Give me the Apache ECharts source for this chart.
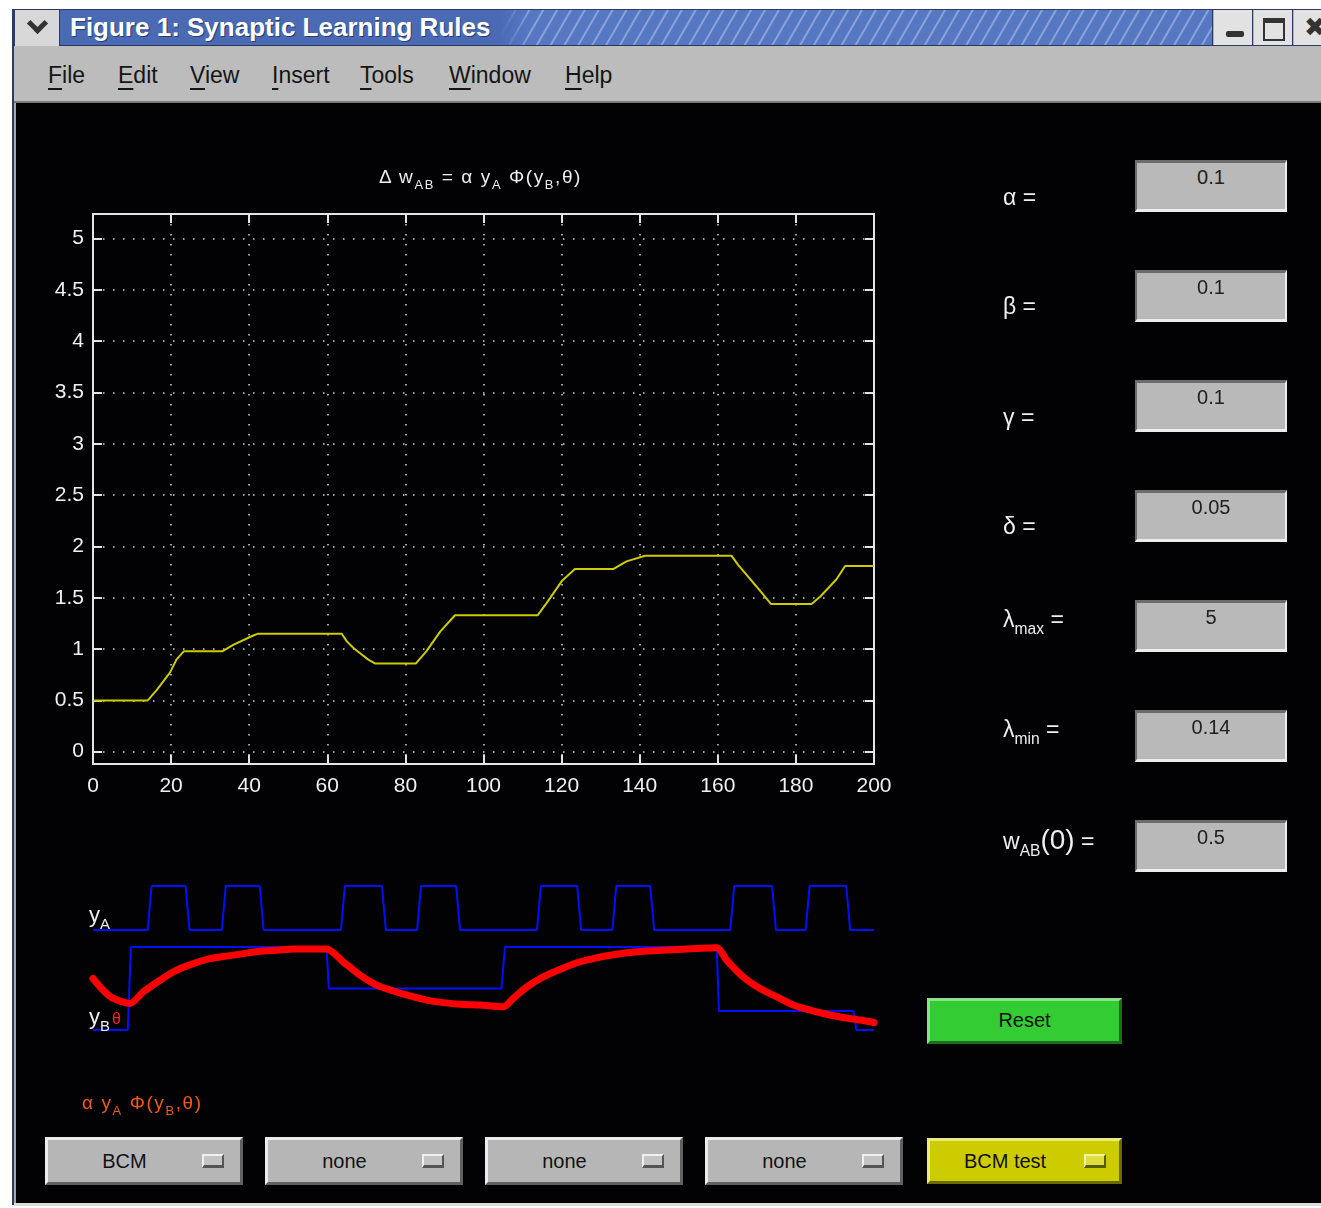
<!DOCTYPE html>
<html>
<head>
<meta charset="utf-8">
<title>Figure 1: Synaptic Learning Rules</title>
<script src="https://cdn.jsdelivr.net/npm/echarts@6/dist/echarts.min.js"></script>
<style>
  html, body { margin: 0; padding: 0; background: #fff; }
  body { width: 1321px; height: 1208px; position: relative; overflow: hidden;
         font-family: 'Liberation Sans', Arial, sans-serif; }
  .abs { position: absolute; }
  #edge { left: 12px; top: 9px; width: 1309px; height: 1196px; background: #2c3c60; }
  #chev { left: 15px; top: 10px; width: 44px; height: 36px; background: #d8d8d8; }
  #chev div { position: absolute; left: 15px; top: 6px; width: 10px; height: 10px;
              border-right: 5px solid #333; border-bottom: 5px solid #333; transform: rotate(45deg); }
  #titlebar { left: 60px; top: 10px; width: 1152px; height: 35px;
    background:
      linear-gradient(90deg, rgba(74,106,180,1) 0px, rgba(74,106,180,1) 440px, rgba(74,106,180,0) 470px),
      repeating-linear-gradient(120deg, #5678c2 0px, #5678c2 9px, #8aa2d8 10px, #8aa2d8 11px, #5678c2 12px),
      #4d6db8; border-bottom: 1px solid #27375a; }
  #titlebar span { position: absolute; left: 10px; top: 2px; color: #fff; font: bold 26px 'Liberation Sans', Arial, sans-serif;
    text-shadow: 1px 1px 0 #2a3a6a; white-space: nowrap; }
  .wbtn { top: 10px; width: 38px; height: 35px; background: #e2e2e2; border-left: 1px solid #b0b0b0; }
  #menubar { left: 14px; top: 46px; width: 1307px; height: 55px; background: #bcbcbc; border-bottom: 2px solid #7a7a7a; }
  .menu { top: 62px; font-size: 23px; color: #151515; white-space: nowrap; }
  .menu u { text-underline-offset: 5px; text-decoration-thickness: 2px; }
  #canvasbg { left: 14px; top: 103px; width: 1307px; height: 1100px; background: #020204; border-left: 2px solid #a8a8a8; box-sizing: border-box; }
  #bottomline { left: 14px; top: 1203px; width: 1307px; height: 3px; background: #dcdcdc; }
  #chart { left: 0; top: 0; width: 1321px; height: 1208px; z-index: 2; }
  .txt { z-index: 3; color: #eeeeee; white-space: nowrap; }
  .txt sub { font-size: 0.68em; vertical-align: -0.45em; }
  .math { letter-spacing: 1.6px; }
  .plab { left: 1003px; font-size: 23px; }
  .edit { z-index: 3; left: 1135px; width: 152px; height: 52px; box-sizing: border-box; background: #b9b9b9;
          border-top: 3px solid #6c6c6c; border-left: 2px solid #6c6c6c; border-bottom: 3px solid #ececec; border-right: 2px solid #ececec;
          text-align: center; font-size: 20px; color: #202020; line-height: 24px; padding-top: 2px; }
  .btn { z-index: 3; box-sizing: border-box; height: 48px;
         border-top: 3px solid #ececec; border-left: 3px solid #ececec; border-bottom: 3px solid #606060; border-right: 3px solid #606060;
         font-size: 20px; color: #111; }
  .btn .lab { position: absolute; left: 0; width: 153px; text-align: center; top: 10px; }
  .btn .ind { position: absolute; left: 154px; top: 14px; width: 18px; height: 9px;
              border-top: 2px solid #f0f0f0; border-left: 2px solid #f0f0f0; border-bottom: 3px solid #555; border-right: 2px solid #555; }
</style>
</head>
<body>
<div id="edge" class="abs"></div>
<div id="chev" class="abs"><div></div></div>
<div id="titlebar" class="abs"><span>Figure 1: Synaptic Learning Rules</span></div>
<div class="abs wbtn" style="left:1213px"><div class="abs" style="left:12px;top:21px;width:18px;height:6px;background:#333;border-radius:2px"></div></div>
<div class="abs wbtn" style="left:1253px"><div class="abs" style="left:9px;top:8px;width:18px;height:16px;border:2px solid #333;border-top-width:5px"></div></div>
<div class="abs wbtn" style="left:1293px;width:28px"><div class="abs" style="left:10px;top:2px;font:bold 26px 'DejaVu Sans',sans-serif;color:#333">&#10006;</div></div>
<div id="menubar" class="abs"></div>
<div class="abs menu" style="left:48px"><u>F</u>ile</div>
<div class="abs menu" style="left:118px"><u>E</u>dit</div>
<div class="abs menu" style="left:190px"><u>V</u>iew</div>
<div class="abs menu" style="left:272px"><u>I</u>nsert</div>
<div class="abs menu" style="left:360px"><u>T</u>ools</div>
<div class="abs menu" style="left:449px"><u>W</u>indow</div>
<div class="abs menu" style="left:565px"><u>H</u>elp</div>
<div id="canvasbg" class="abs"></div>
<div id="bottomline" class="abs"></div>

<div id="chart" class="abs"></div>

<!-- axis titles and trace labels -->
<div class="abs txt math" style="left:379px;top:166px;font-size:19px">&Delta; w<sub>AB</sub> = &alpha; y<sub>A</sub> &Phi;(y<sub>B</sub>,&theta;)</div>
<div class="abs txt" style="left:89px;top:902px;font-size:22px">y<sub>A</sub></div>
<div class="abs txt" style="left:89px;top:1004px;font-size:22px">y<sub>B</sub> <span style="color:#ff2020;font-size:16px;margin-left:-4px">&theta;</span></div>
<div class="abs txt math" style="left:82px;top:1092px;font-size:19px;color:#f05a14">&alpha; y<sub>A</sub> &Phi;(y<sub>B</sub>,&theta;)</div>

<!-- parameter panel -->
<div class="abs txt plab" style="top:184px">&alpha; =</div>
<div class="abs txt plab" style="top:293px">&beta; =</div>
<div class="abs txt plab" style="top:404px">&gamma; =</div>
<div class="abs txt plab" style="top:513px">&delta; =</div>
<div class="abs txt plab" style="top:606px">&lambda;<sub>max</sub> =</div>
<div class="abs txt plab" style="top:716px">&lambda;<sub>min</sub> =</div>
<div class="abs txt plab" style="top:824px">w<sub>AB</sub><span style="font-size:28px">(0)</span> =</div>

<div class="abs edit" style="top:160px">0.1</div>
<div class="abs edit" style="top:270px">0.1</div>
<div class="abs edit" style="top:380px">0.1</div>
<div class="abs edit" style="top:490px">0.05</div>
<div class="abs edit" style="top:600px">5</div>
<div class="abs edit" style="top:710px">0.14</div>
<div class="abs edit" style="top:820px">0.5</div>

<div class="abs btn" style="left:927px;top:998px;width:195px;height:46px;background:#33cc33;border-top-color:#8ce08c;border-left-color:#8ce08c;border-bottom-color:#1d6e1d;border-right-color:#1d6e1d;text-align:center;line-height:38px">Reset</div>

<div class="abs btn" style="left:45px;top:1137px;width:198px;background:#b6b6b6"><span class="lab">BCM</span><span class="ind" style="background:#c4c4c4"></span></div>
<div class="abs btn" style="left:265px;top:1137px;width:198px;background:#b6b6b6"><span class="lab">none</span><span class="ind" style="background:#c4c4c4"></span></div>
<div class="abs btn" style="left:485px;top:1137px;width:198px;background:#b6b6b6"><span class="lab">none</span><span class="ind" style="background:#c4c4c4"></span></div>
<div class="abs btn" style="left:705px;top:1137px;width:198px;background:#b6b6b6"><span class="lab">none</span><span class="ind" style="background:#c4c4c4"></span></div>
<div class="abs btn" style="left:927px;top:1138px;width:195px;height:46px;background:#cccc00;border-top-color:#eaea80;border-left-color:#eaea80;border-bottom-color:#6a6a00;border-right-color:#6a6a00"><span class="lab" style="width:150px;top:9px">BCM test</span><span class="ind" style="left:154px;top:13px;background:#dede40;border-top-color:#f4f4a0;border-left-color:#f4f4a0;border-bottom-color:#5a5a00;border-right-color:#5a5a00"></span></div>

<script>
  // synaptic weight w_AB over time (upper axes)
  const wTime = [0, 14, 16.3, 19.7, 21.4, 23.3, 33.2, 35.9, 40.9, 42.3, 63.7, 65.0, 66.7, 68.4, 70.5, 72.2, 82.7, 85.4, 88.9, 92.7,
                 113.9, 116.2, 120.0, 123.4, 133.2, 136.6, 141.4, 163.5, 165.2, 169.9, 173.6, 184.0, 186.2, 190.4, 192.6, 200]
  const wValue = [0.5, 0.5, 0.6, 0.77, 0.9, 0.98, 0.98, 1.04, 1.13, 1.15, 1.15, 1.075, 1.01, 0.96, 0.897, 0.86, 0.86, 0.98, 1.17, 1.33,
                  1.33, 1.45, 1.66, 1.78, 1.78, 1.855, 1.91, 1.91, 1.82, 1.61, 1.44, 1.44, 1.51, 1.68, 1.81, 1.81]
  const wTicks = [0, 0.5, 1, 1.5, 2, 2.5, 3, 3.5, 4, 4.5, 5]

  // presynaptic activity y_A
  const yaTime = [0, 14, 15, 23.7, 24.7, 33, 34, 42.7, 43.7, 63.5, 64.5, 74, 75, 83, 84, 93, 94,
                  113.7, 114.7, 124, 125, 133, 134, 142.7, 143.7, 163.2, 164.2, 173.9, 174.9, 182.5, 183.5, 192.9, 193.9, 200]
  const yaLevel = [0, 0, 1, 1, 0, 0, 1, 1, 0, 0, 1, 1, 0, 0, 1, 1, 0,
                   0, 1, 1, 0, 0, 1, 1, 0, 0, 1, 1, 0, 0, 1, 1, 0, 0]

  // postsynaptic activity y_B
  const ybTime = [0, 8.9, 9.7, 59.8, 60.4, 104.6, 105.5, 159.7, 160.3, 194.7, 195.5, 200]
  const ybLevel = [0, 0, 1, 1, 0.5, 0.5, 1, 1, 0.23, 0.23, 0, 0]

  // sliding threshold theta
  const thetaTime = [0, 2.6, 5.2, 9.5, 12.9, 17.2, 21.4, 25.7, 30, 34.2, 38.5, 42.8, 47, 51.3, 59.8, 64.1, 68.4, 72.6, 76.9,
                     81.2, 85.4, 89.7, 94, 99.1, 105.1, 107.6, 111.1, 115.3, 119.6, 123.9, 128.1, 132.4, 136.7, 140.9,
                     149.5, 159.7, 162.3, 166.5, 170.8, 175.1, 179.3, 183.6, 187.9, 192.1, 196.4, 200]
  const thetaValue = [0.62, 0.48, 0.38, 0.32, 0.46, 0.60, 0.72, 0.80, 0.86, 0.89, 0.92, 0.95, 0.96, 0.976, 0.976, 0.82, 0.66, 0.54, 0.47,
                      0.41, 0.36, 0.33, 0.31, 0.30, 0.28, 0.38, 0.52, 0.64, 0.73, 0.81, 0.86, 0.90, 0.93, 0.95,
                      0.97, 0.99, 0.84, 0.64, 0.50, 0.40, 0.30, 0.24, 0.19, 0.15, 0.12, 0.09]

  const zip = (xs, ys) => xs.map((x, i) => [x, ys[i]])
  const frameColor = '#e4e4e4'
  const font = 'Liberation Sans'

  const chart = echarts.init(document.getElementById('chart'), null, { renderer: 'canvas' })

  const frameAxis = {
    axisLine: { show: true, onZero: false, lineStyle: { color: frameColor, width: 2 } },
    axisTick: { show: true, inside: true, length: 9, lineStyle: { color: frameColor, width: 2 } }
  }
  // grid lines
  const dotted = { show: true, lineStyle: { color: '#d6d6d6', width: 1.5, type: [1.5, 8.5] } }
  const hidden = { type: 'value', show: false, min: 0, max: 200 }

  const options = {
    backgroundColor: 'transparent',
    animation: false,
    grid: [
      { left: 93, top: 214, width: 781, height: 550 },
      { left: 93, top: 886, width: 781, height: 44 },
      { left: 93, top: 947, width: 781, height: 83 }
    ],
    xAxis: [
      Object.assign({ gridIndex: 0, type: 'value', min: 0, max: 200, interval: 20, position: 'bottom',
        axisLabel: { color: '#f0f0f0', fontSize: 21, margin: 12, fontFamily: font },
        splitLine: dotted }, frameAxis),
      Object.assign({ gridIndex: 0, type: 'value', min: 0, max: 200, interval: 20, position: 'top',
        axisLabel: { show: false }, splitLine: { show: false } }, frameAxis),
      Object.assign({ gridIndex: 1 }, hidden),
      Object.assign({ gridIndex: 2 }, hidden)
    ],
    yAxis: [
      Object.assign({ gridIndex: 0, type: 'value', min: -0.12, max: 5.24, position: 'left',
        axisLabel: { color: '#f0f0f0', fontSize: 21, margin: 9, fontFamily: font, customValues: wTicks },
        splitLine: dotted }, frameAxis, {
        axisTick: { show: true, inside: true, length: 9, customValues: wTicks, lineStyle: { color: frameColor, width: 2 } }
      }),
      Object.assign({ gridIndex: 0, type: 'value', min: -0.12, max: 5.24, position: 'right',
        axisLabel: { show: false }, splitLine: { show: false } }, frameAxis, {
        axisTick: { show: true, inside: true, length: 9, customValues: wTicks, lineStyle: { color: frameColor, width: 2 } }
      }),
      { gridIndex: 1, type: 'value', show: false, min: 0, max: 1 },
      { gridIndex: 2, type: 'value', show: false, min: 0, max: 1 }
    ],
    series: [
      {
        name: 'wAB', type: 'line', xAxisIndex: 0, yAxisIndex: 0, symbol: 'none',
        lineStyle: { color: '#cccc00', width: 2 }, data: zip(wTime, wValue)
      },
      {
        name: 'yA', type: 'line', xAxisIndex: 2, yAxisIndex: 2, symbol: 'none', clip: false,
        lineStyle: { color: '#0010ff', width: 2 }, data: zip(yaTime, yaLevel)
      },
      {
        name: 'yB', type: 'line', xAxisIndex: 3, yAxisIndex: 3, symbol: 'none', clip: false,
        lineStyle: { color: '#0010ff', width: 2 }, data: zip(ybTime, ybLevel)
      },
      {
        name: 'theta', type: 'line', xAxisIndex: 3, yAxisIndex: 3, symbol: 'none', clip: false, smooth: 0.25,
        lineStyle: { color: '#ff0000', width: 7, cap: 'round', join: 'round' }, data: zip(thetaTime, thetaValue)
      }
    ]
  }

  chart.setOption(options)
</script>
</body>
</html>
